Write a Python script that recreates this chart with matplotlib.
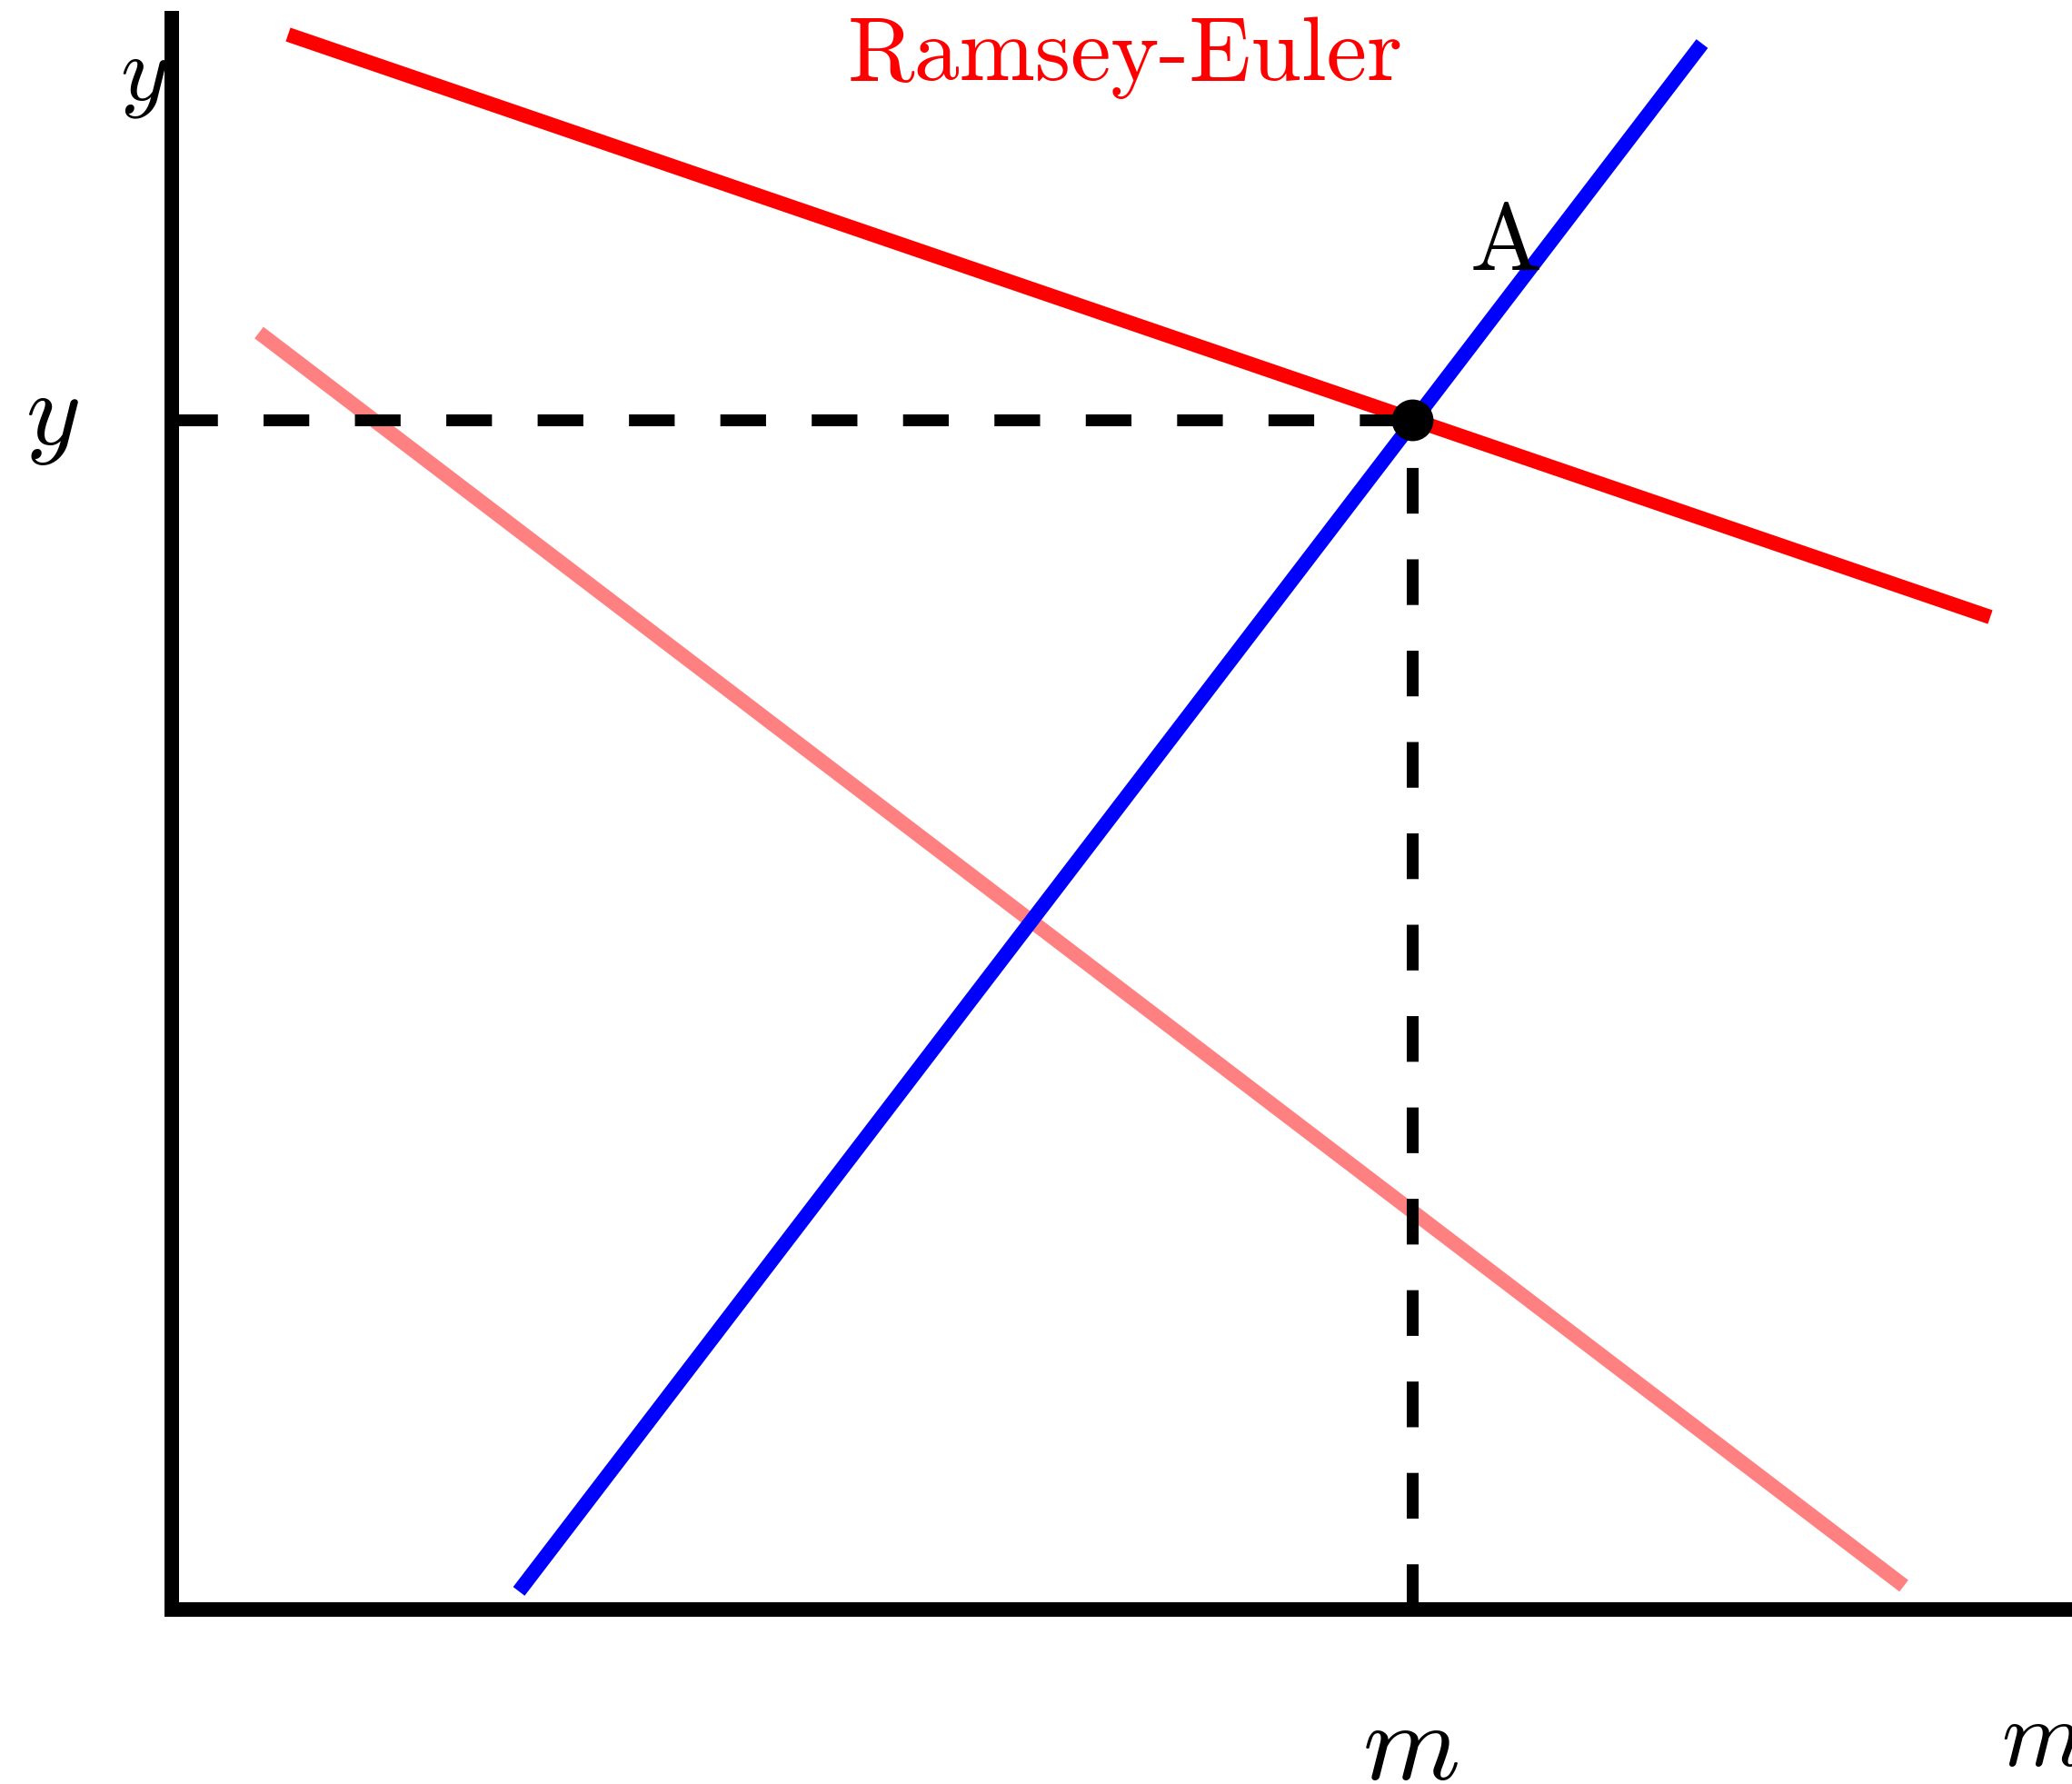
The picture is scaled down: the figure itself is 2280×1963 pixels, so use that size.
import matplotlib
matplotlib.use("Agg")
import matplotlib.pyplot as plt

plt.rcParams['mathtext.fontset'] = 'cm'
plt.rcParams['axes.formatter.use_mathtext'] = True

# chart values (units: 1 = 100 px of the original picture, origin at the axes corner)
ramsey_x = [1.28, 20.01]
ramsey_y = [17.33, 10.92]
blue_x = [3.82, 16.84]
blue_y = [0.20, 17.23]
pink_x = [0.96, 19.06]
pink_y = [14.05, 0.26]
point_a = (13.65, 13.09)
x_axis_end = 20.91
y_axis_end = 17.51

fig = plt.figure(figsize=(22.8, 19.63), dpi=100)
ax = fig.add_axes([0, 0, 1, 1])
ax.set_xlim(-1.89, 20.91)
ax.set_ylim(-1.92, 17.71)
ax.axis('off')

lw = 11.5
ax.plot(pink_x, pink_y, color='#FF8080', lw=lw, solid_capstyle='butt')
ax.plot(ramsey_x, ramsey_y, color='#FF0000', lw=lw, solid_capstyle='butt')
ax.plot(blue_x, blue_y, color='#0000FF', lw=lw, solid_capstyle='butt')

# dashed guides from the axes to point A
ax.plot([0, point_a[0]], [point_a[1], point_a[1]], color='black', lw=9.4,
        dashes=(3.85, 3.85), dash_capstyle='butt')
ax.plot([point_a[0], point_a[0]], [0, point_a[1]], color='black', lw=9.4,
        dashes=(3.85, 3.85), dash_capstyle='butt')

# axes
ax.plot([0, 0], [0, y_axis_end], color='black', lw=11.5, solid_capstyle='projecting')
ax.plot([0, x_axis_end], [0, 0], color='black', lw=11.5, solid_capstyle='projecting')

ax.plot([point_a[0]], [point_a[1]], 'o', color='black', markersize=32)

ax.text(-0.315, 16.61, '$y$', fontsize=73, ha='center', va='baseline')
ax.text(-1.32, 12.82, '$y$', fontsize=83, ha='center', va='baseline')
ax.text(15.52 - 1.89, -1.87, '$m$', fontsize=88, ha='center', va='baseline')
ax.text(20.13, -1.72, '$m$', fontsize=75, ha='left', va='baseline')
ax.text(14.68, 14.74, 'A', fontsize=76, family='cmr10', ha='center', va='baseline')
ax.text(10.49, 16.83, 'Ramsey-Euler', fontsize=72, family='cmr10', color='#FF0000',
        ha='center', va='baseline')

fig.savefig('out.png', dpi=100)
